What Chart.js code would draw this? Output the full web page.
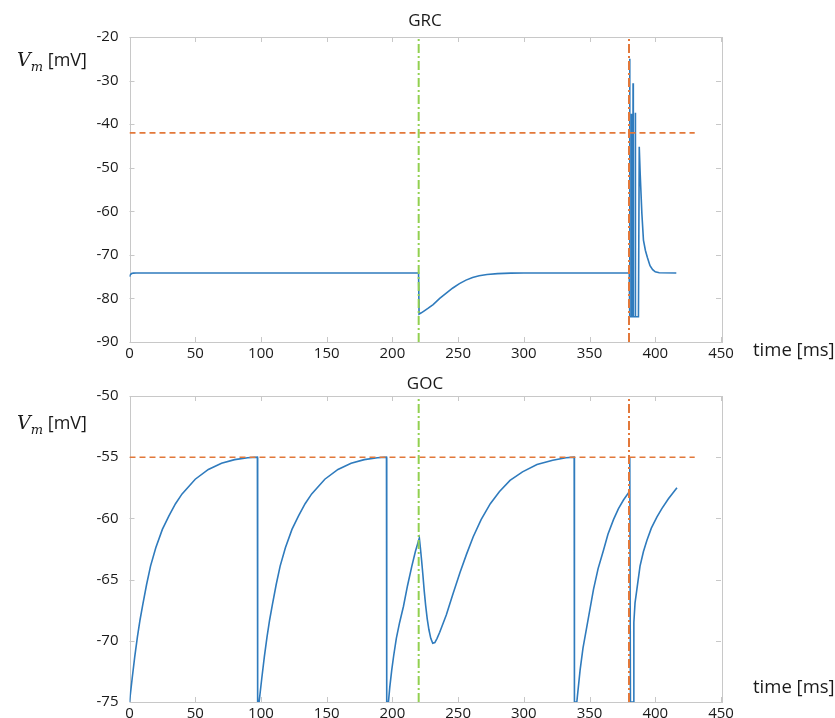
<!DOCTYPE html>
<html>
<head>
<meta charset="utf-8">
<script src="https://cdn.jsdelivr.net/npm/chart.js@4/dist/chart.umd.min.js"></script>
<style>
body { margin: 0; background: #fff; }
#wrap { position: relative; width: 835px; height: 718px; font-family: "Open Sans", sans-serif; color: #1a1a1a; overflow: hidden; }
.panel { position: absolute; left: 0; }
.title { position: absolute; left: 325px; width: 200px; text-align: center; font-size: 17px; line-height: 22px; }
.ylab { position: absolute; left: 17px; font-size: 18px; line-height: 24px; white-space: nowrap; }
.ylab i { font-family: "DejaVu Serif", serif; font-size: 19px; }
.ylab sub { font-family: "DejaVu Serif", serif; font-style: italic; font-size: 13px; }
.xlab { position: absolute; left: 753px; font-size: 18.5px; line-height: 24px; white-space: nowrap; }
</style>
</head>
<body>
<div id="wrap">
  <div class="panel" style="top:0"><canvas id="grcChart" width="835" height="372"></canvas></div>
  <div class="panel" style="top:359px"><canvas id="gocChart" width="835" height="359"></canvas></div>
  <div class="title" style="top:9px">GRC</div>
  <div class="title" style="top:372px">GOC</div>
  <div class="ylab" style="top:47px"><i>V</i><sub>m</sub> [mV]</div>
  <div class="ylab" style="top:410px"><i>V</i><sub>m</sub> [mV]</div>
  <div class="xlab" style="top:337px">time [ms]</div>
  <div class="xlab" style="top:674px">time [ms]</div>
</div>
<script>
// stimulus times (vertical lines) and thresholds
const stimTimes = [220, 380];
const thresholdEnd = 430;
const grcThreshold = -42;
const gocThreshold = -55;

// GRC membrane potential
const grcTime = [0, 0.5, 1.5, 3, 5, 219.9, 220.3, 222, 224, 227, 231, 236, 241, 246, 251, 256, 261, 266, 272, 280, 290, 300,
  380.2, 380.5, 380.7, 381.6, 381.8, 382.0, 382.9, 383.1, 383.3, 384.6, 384.8, 385.0, 387.2, 387.8,
  388.5, 389.8, 391, 392.5, 394, 396, 398, 400, 403, 416];
const grcVm = [-75.0, -74.6, -74.3, -74.2, -74.15, -74.15, -83.6, -83.3, -82.9, -82.3, -81.4, -80.0, -78.8, -77.6, -76.6, -75.8, -75.2, -74.8, -74.5, -74.3, -74.2, -74.15,
  -74.15, -25.0, -84.2, -84.2, -37.6, -84.2, -84.2, -30.6, -84.2, -84.2, -37.4, -84.2, -84.2, -45.2,
  -51.3, -60.5, -66.6, -69.0, -70.6, -72.5, -73.4, -73.9, -74.1, -74.15];

// GOC membrane potential
const gocTime = [0, 2, 4, 6, 8, 10, 13, 16, 20, 25, 30, 35, 40, 50, 60, 70, 80, 90, 97.3, 97.5,
  98.6, 100.6, 102.6, 104.6, 106.6, 108.6, 111.6, 114.6, 118.6, 123.6, 128.6, 133.6, 138.6, 148.6, 158.6, 168.6, 178.6, 188.6, 195.5, 195.7,
  197, 198, 199.5, 201, 203, 205.5, 208.4, 211.5, 214.8, 217.5, 220.5,
  221.3, 222.2, 223.2, 224.2, 225.3, 226.5, 227.8, 229.2, 230.7, 232.3, 234, 236, 241, 246, 251.5, 256.5, 261.5, 267.5, 274.5, 281.5, 289.5, 299, 310, 322, 332, 338.3, 338.5,
  340.3, 342.8, 345, 348, 353, 356.5, 360.6, 364, 368.2, 372, 375.8, 380.3, 380.6, 381.1, 383.3, 383.7, 384.6, 386, 388.4, 391, 393.6, 397, 401.2, 405, 410, 416.5];
const gocVm = [-75, -73.1, -71.3, -69.7, -68.3, -67.1, -65.4, -63.9, -62.4, -60.9, -59.8, -58.8, -58.0, -56.8, -56.0, -55.5, -55.2, -55.05, -55.0, -75,
  -75, -73.1, -71.3, -69.7, -68.3, -67.1, -65.4, -63.9, -62.4, -60.9, -59.8, -58.8, -58.0, -56.8, -56.0, -55.5, -55.2, -55.05, -55.0, -75,
  -75, -73.8, -72.4, -71.2, -69.8, -68.5, -67.2, -65.5, -63.9, -62.7, -61.6,
  -62.4, -63.4, -64.6, -65.9, -67.1, -68.2, -69.1, -69.8, -70.2, -70.15, -69.8, -69.3, -67.9, -66.2, -64.4, -62.9, -61.5, -60.1, -58.8, -57.8, -56.9, -56.2, -55.6, -55.25, -55.05, -55.0, -75,
  -75, -72.4, -70.6, -68.8, -65.8, -64.1, -62.6, -61.3, -60.1, -59.2, -58.5, -57.8, -55.0, -75, -75, -68.5, -66.9, -65.8, -63.9, -62.7, -61.8, -60.8, -59.9, -59.2, -58.4, -57.5];

const blue = '#2f7bbd';
const orange = '#e2783a';
const green = '#92d050';
const frameColor = '#c8c8c8';

Chart.defaults.font.family = "'Open Sans', sans-serif";
Chart.defaults.font.size = 15;
Chart.defaults.color = '#1a1a1a';

// box around the plot with tick marks pointing inwards
const frameTicks = {
  id: 'frameTicks',
  beforeDatasetsDraw(chart) {
    const { ctx, chartArea: a, scales: { x, y } } = chart;
    ctx.save();
    ctx.strokeStyle = frameColor;
    ctx.lineWidth = 1;
    ctx.strokeRect(Math.round(a.left) + 0.5, Math.round(a.top) + 0.5, Math.round(a.right - a.left), Math.round(a.bottom - a.top));
    ctx.beginPath();
    x.ticks.forEach(t => {
      const px = Math.round(x.getPixelForValue(t.value)) + 0.5;
      ctx.moveTo(px, a.bottom); ctx.lineTo(px, a.bottom - 5);
      ctx.moveTo(px, a.top); ctx.lineTo(px, a.top + 5);
    });
    y.ticks.forEach(t => {
      const py = Math.round(y.getPixelForValue(t.value)) + 0.5;
      ctx.moveTo(a.left, py); ctx.lineTo(a.left + 5, py);
      ctx.moveTo(a.right, py); ctx.lineTo(a.right - 5, py);
    });
    ctx.stroke();
    ctx.restore();
  }
};

function buildChart(id, time, vm, thr, yMin, yMax, yStep, bottomPad) {
  const trace = time.map((t, i) => ({ x: t, y: vm[i] }));
  new Chart(document.getElementById(id), {
    type: 'scatter',
    data: {
      datasets: [
        { data: [{ x: stimTimes[0], y: yMin }, { x: stimTimes[0], y: yMax }], borderColor: green, borderWidth: 2, borderDash: [9, 3, 2, 3], showLine: true },
        { data: [{ x: stimTimes[1], y: yMin }, { x: stimTimes[1], y: yMax }], borderColor: orange, borderWidth: 2, borderDash: [9, 3, 2, 3], showLine: true },
        { data: [{ x: 0, y: thr }, { x: thresholdEnd, y: thr }], borderColor: orange, borderWidth: 1.6, borderDash: [6, 4], showLine: true },
        { data: trace, borderColor: blue, borderWidth: 1.6, showLine: true }
      ]
    },
    options: {
      responsive: false,
      animation: false,
      elements: { point: { radius: 0 }, line: { tension: 0 } },
      layout: { padding: { top: 37, right: 114, left: 0, bottom: bottomPad } },
      plugins: { legend: { display: false }, tooltip: { enabled: false } },
      scales: {
        x: {
          type: 'linear', min: 0, max: 450,
          grid: { display: false, drawTicks: false }, border: { display: false },
          ticks: { stepSize: 50, padding: 3, maxRotation: 0 },
          afterFit(s) { s.height = 20; s.paddingLeft = 0; s.paddingRight = 0; }
        },
        y: {
          min: yMin, max: yMax,
          grid: { display: false, drawTicks: false }, border: { display: false },
          ticks: { stepSize: yStep, padding: 11 },
          afterFit(s) { s.width = 129.5; s.paddingTop = 0; s.paddingBottom = 0; }
        }
      }
    },
    plugins: [frameTicks]
  });
}

buildChart('grcChart', grcTime, grcVm, grcThreshold, -90, -20, 10, 10);
buildChart('gocChart', gocTime, gocVm, gocThreshold, -75, -50, 5, -4);
</script>
</body>
</html>
